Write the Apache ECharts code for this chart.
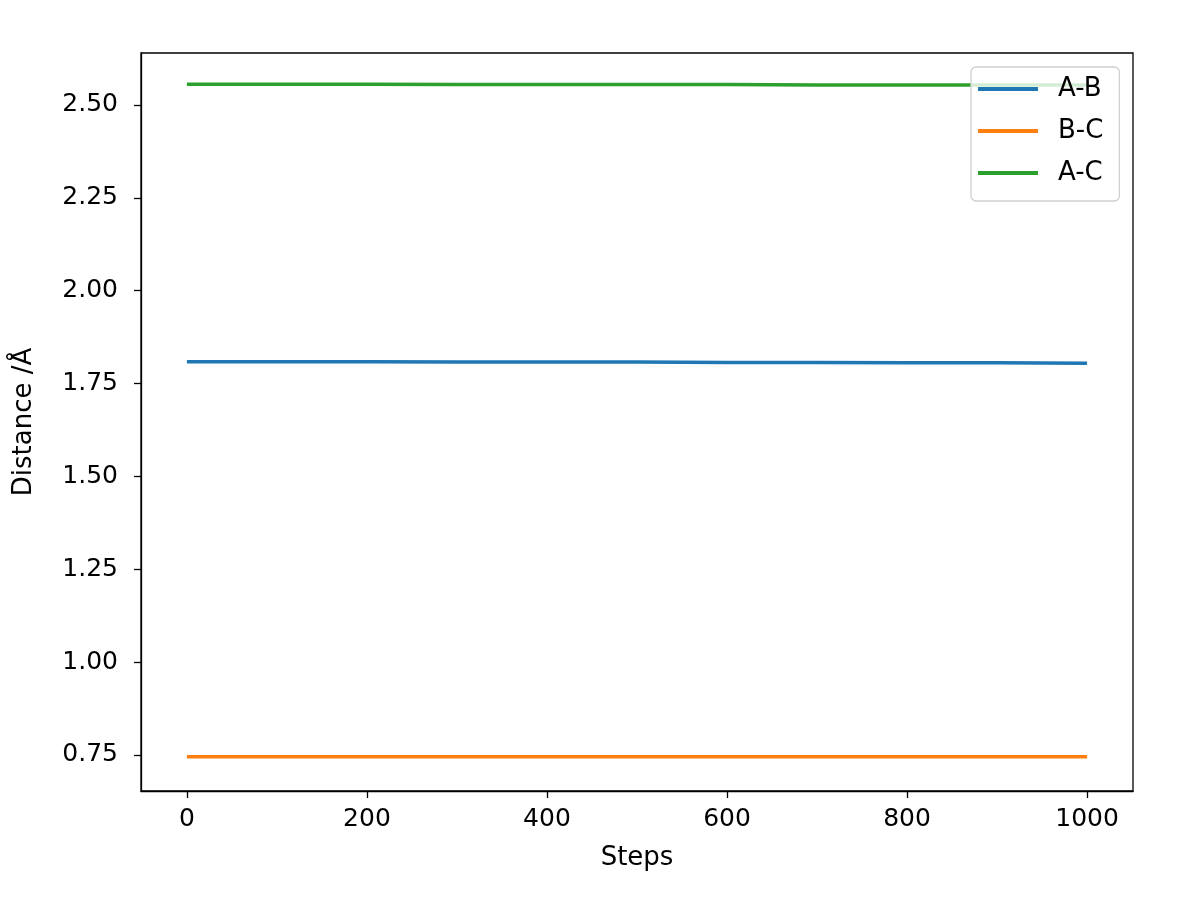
<!DOCTYPE html>
<html>
<head>
<meta charset="utf-8">
<script src="https://cdn.jsdelivr.net/npm/echarts@6/dist/echarts.min.js"></script>
<style>
html,body{margin:0;padding:0;background:#fff;}
#chart{width:1184px;height:898px;}
</style>
</head>
<body>
<div id="chart"></div>
<script>
// Data
const steps = [0, 100, 200, 300, 400, 500, 600, 700, 800, 900, 1000];
const distAB = [1.809, 1.809, 1.809, 1.808, 1.808, 1.808, 1.807, 1.807, 1.806, 1.806, 1.805];
const distBC = [0.7455, 0.7455, 0.7455, 0.7455, 0.7455, 0.7455, 0.7455, 0.7455, 0.7455, 0.7455, 0.7455];
const distAC = [2.556, 2.556, 2.556, 2.555, 2.555, 2.555, 2.555, 2.554, 2.554, 2.554, 2.554];
const xTicks = [0, 200, 400, 600, 800, 1000];
const yTicks = [0.75, 1.00, 1.25, 1.50, 1.75, 2.00, 2.25, 2.50];
const seriesNames = ['A-B', 'B-C', 'A-C'];
const colors = ['#1f77b4', '#ff7f0e', '#2ca02c'];

const FONT = 'DejaVu Sans';
const pairs = (ys) => steps.map((s, i) => [s, ys[i]]);

const chart = echarts.init(document.getElementById('chart'), null, {renderer: 'canvas'});
chart.setOption({
  animation: false,
  backgroundColor: '#ffffff',
  color: colors,
  grid: {
    left: 141, right: 51, top: 53, bottom: 107,
    show: true, borderColor: '#000', borderWidth: 1.3, backgroundColor: 'transparent'
  },
  legend: {
    left: 971, top: 67,
    orient: 'vertical',
    data: seriesNames,
    icon: 'rect',
    itemWidth: 60, itemHeight: 4,
    itemGap: 16,
    padding: [9, 16, 15, 7],
    backgroundColor: 'rgba(255,255,255,0.8)',
    borderColor: '#d0d0d0', borderWidth: 1.3, borderRadius: 5,
    textStyle: {fontFamily: FONT, fontSize: 26, color: '#000', lineHeight: 24, padding: [0, 0, 0, 15]}
  },
  xAxis: {
    type: 'value', min: -51, max: 1051,
    name: 'Steps', nameLocation: 'middle', nameGap: 54,
    nameTextStyle: {fontFamily: FONT, fontSize: 26, color: '#000'},
    splitLine: {show: false},
    axisLine: {show: true, onZero: false, lineStyle: {color: '#000', width: 1.3}},
    axisTick: {show: true, length: 7, lineStyle: {color: '#000', width: 1.3}, customValues: xTicks},
    axisLabel: {fontFamily: FONT, fontSize: 25, color: '#000', margin: 16, customValues: xTicks,
      formatter: (v) => String(v)}
  },
  yAxis: {
    type: 'value', min: 0.653, max: 2.640,
    name: 'Distance /Å', nameLocation: 'middle', nameGap: 104, nameRotate: 90,
    nameTextStyle: {fontFamily: FONT, fontSize: 26, color: '#000'},
    splitLine: {show: false},
    axisLine: {show: true, onZero: false, lineStyle: {color: '#000', width: 1.3}},
    axisTick: {show: true, length: 7, lineStyle: {color: '#000', width: 1.3}, customValues: yTicks},
    axisLabel: {fontFamily: FONT, fontSize: 25, color: '#000', margin: 23, customValues: yTicks,
      formatter: (v) => v.toFixed(2)}
  },
  series: [
    {name: seriesNames[0], type: 'line', data: pairs(distAB), showSymbol: false, lineStyle: {width: 3.5}},
    {name: seriesNames[1], type: 'line', data: pairs(distBC), showSymbol: false, lineStyle: {width: 3.5}},
    {name: seriesNames[2], type: 'line', data: pairs(distAC), showSymbol: false, lineStyle: {width: 3.5}}
  ]
});
</script>
</body>
</html>
